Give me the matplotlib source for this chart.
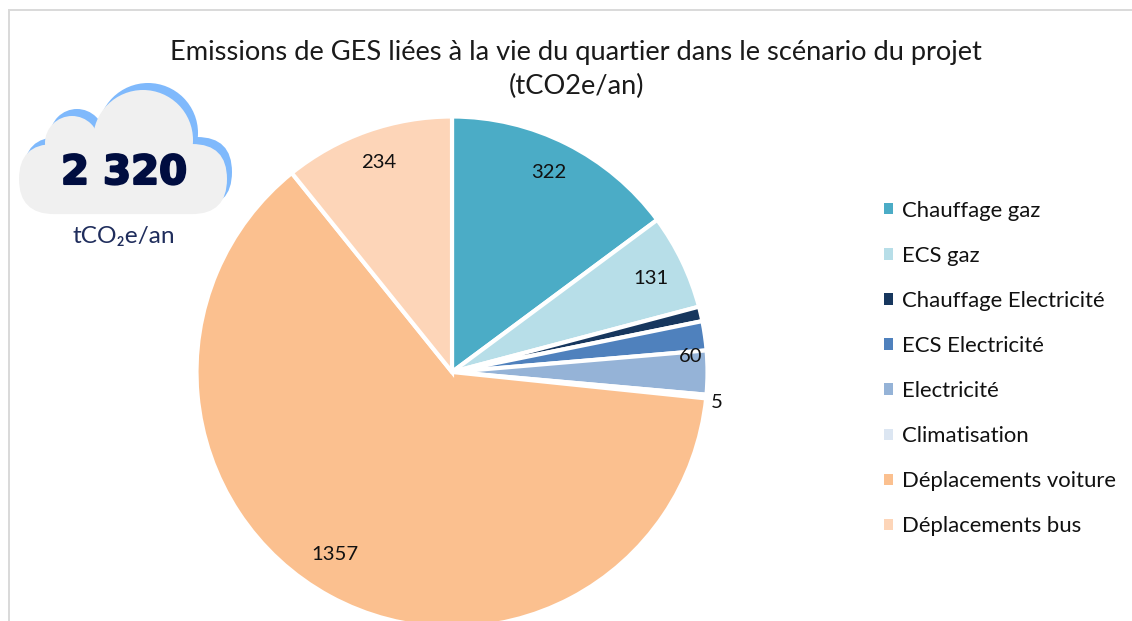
import matplotlib
matplotlib.use("Agg")
import matplotlib.pyplot as plt
import matplotlib.patheffects as pe
from matplotlib.patches import Circle, FancyBboxPatch, Patch

plt.rcParams['font.family'] = ['Lato', 'DejaVu Sans']

categories = ["Chauffage gaz", "ECS gaz", "Chauffage Electricité", "ECS Electricité",
              "Electricité", "Climatisation", "Déplacements voiture", "Déplacements bus"]
values = [322, 131, 20, 40, 60, 5, 1357, 234]
colors = ["#4BACC6", "#B7DEE8", "#17375E", "#4F81BD", "#95B3D7", "#DCE6F2", "#FBC08F", "#FDD5B8"]
shown_labels = ["322", "131", "60", "5", "1357", "234"]
label_px = [(549, 172), (651, 279), (691, 356), (717, 402), (335, 555), (379, 162)]
title = "Emissions de GES liées à la vie du quartier dans le scénario du projet\n(tCO2e/an)"
total_label = "2 320"
unit_label = "tCO₂e/an"

W, H = 1132, 621
fig = plt.figure(figsize=(W / 100, H / 100), dpi=100, facecolor="white")

# overlay in pixel coordinates
ov = fig.add_axes([0, 0, 1, 1], zorder=3)
ov.set_xlim(0, W)
ov.set_ylim(H, 0)
ov.axis("off")
ov.patch.set_alpha(0)

# pie
cx, cy, r = 452, 372, 255.5
ax = fig.add_axes([(cx - r) / W, 1 - (cy + r) / H, 2 * r / W, 2 * r / H], zorder=1)
ax.pie(values, colors=colors, startangle=90, counterclock=False, radius=1,
       wedgeprops=dict(edgecolor="white", linewidth=3.0), frame=False)
ax.set_xlim(-1, 1)
ax.set_ylim(-1, 1)
ax.axis("off")
for p in ax.patches:
    p.set_clip_on(False)

# chart frame
ov.plot([9, 9, W], [H, 10, 10], color="#D9D9D9", lw=1.4, solid_joinstyle="miter")

# title
ov.text(576, 69.5, title, ha="center", va="center", fontsize=19.6, color="#1A1A1A", linespacing=1.43)

# data labels
for s, (x, y) in zip(shown_labels, label_px):
    ov.text(x, y, s, ha="center", va="center", fontsize=14.6, color="#111111", zorder=5)

# legend
handles = [Patch(facecolor=c, edgecolor="none") for c in colors]
fig.legend(handles, categories, loc="upper left", bbox_to_anchor=(866.4 / W, 1 - 183 / H),
           frameon=False, fontsize=15.9, handlelength=0.41, handleheight=0.41,
           handletextpad=0.41, labelspacing=1.136, borderpad=0.3, labelcolor="#111111")


def cloud(dx, dy, color, z):
    ov.add_patch(FancyBboxPatch((19 + 35 + dx, 144 + 35 + dy), 208 - 70, 0.1,
                                boxstyle="round,pad=35,rounding_size=35",
                                fc=color, ec="none", zorder=z))
    ov.add_patch(Circle((143 + dx, 140 + dy), 50, fc=color, ec="none", zorder=z))
    ov.add_patch(Circle((72 + dx, 143 + dy), 27, fc=color, ec="none", zorder=z))


cloud(5, -7, "#7FB9FC", 2)
cloud(0, 0, "#F0F0F0", 3)
ov.text(124, 173, total_label, ha="center", va="center", fontsize=29, fontweight="bold",
        family="DejaVu Sans", color="#000D40", zorder=6,
        path_effects=[pe.withStroke(linewidth=1.5, foreground="#000D40")])
ov.text(124, 237, unit_label, ha="center", va="center", fontsize=17.6, color="#1F2D5C", zorder=6)

fig.savefig("out.png", dpi=100)
